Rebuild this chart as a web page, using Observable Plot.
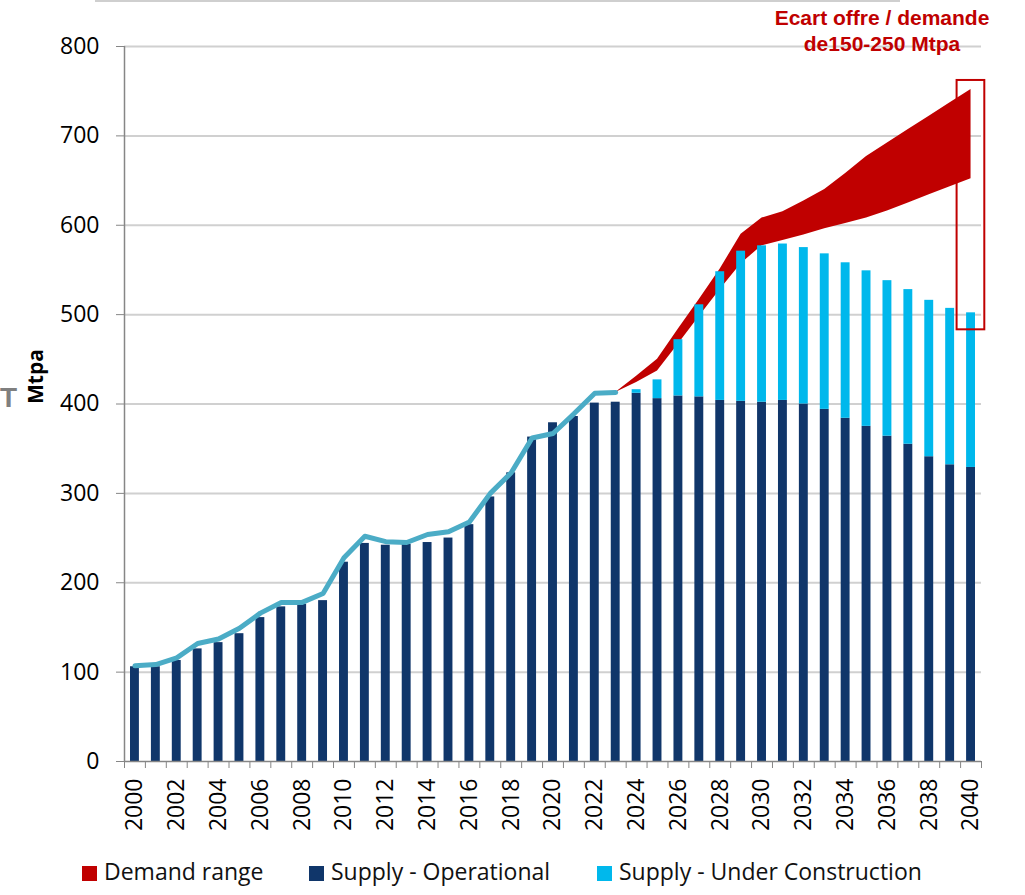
<!DOCTYPE html>
<html><head><meta charset="utf-8">
<script src="https://cdn.jsdelivr.net/npm/d3@7"></script>
<script src="https://cdn.jsdelivr.net/npm/@observablehq/plot@0.6"></script>
<style>
body{margin:0;background:#fff;}
#wrap{position:relative;width:1025px;height:895px;overflow:hidden;font-family:"Open Sans",sans-serif;background:#fff;}
#chart{position:absolute;left:0;top:0;}
.topline{position:absolute;left:95px;top:0;width:805px;height:2px;background:#cfcfcf;}
.cutT{position:absolute;left:0px;top:384px;font:bold 28px/28px "Liberation Sans",Arial,sans-serif;color:#7f7f7f;}
.note{position:absolute;left:752px;top:5px;width:260px;text-align:center;font:bold 21px/26px "Liberation Sans",Arial,sans-serif;color:#c00000;}
.sw{position:absolute;top:866px;width:15px;height:15px;}
.lt{position:absolute;top:856px;font-size:23px;line-height:30px;color:#111;white-space:nowrap;}
</style></head><body>
<div id="wrap">
  <div class="topline"></div>
  <div class="cutT">T</div>
  <div id="chart"></div>
  <div class="note">Ecart offre / demande<br>de150-250 Mtpa</div>
  <div id="legend"></div>
</div>
<script>
// ---- data ----
const years = d3.range(2000, 2041);
const yTicks = [0, 100, 200, 300, 400, 500, 600, 700, 800];
const supplySeries = ["Supply - Operational", "Supply - Under Construction"];
const operational = [106, 106, 113, 126, 133, 143, 161, 173, 176, 180, 223, 244, 242, 243, 245, 250, 265, 296, 323, 363, 379, 386, 401, 402, 412, 406, 409, 408, 404, 403, 402, 404, 400, 394, 384, 375, 364, 355, 341, 332, 329];
const constructionYears = [2024, 2025, 2026, 2027, 2028, 2029, 2030, 2031, 2032, 2033, 2034, 2035, 2036, 2037, 2038, 2039, 2040];
const underConstruction = [4, 21, 63, 103, 144, 168, 175, 175, 175, 174, 174, 174, 174, 173, 175, 175, 173];
const historyYears = d3.range(2000, 2024);
const historicDemand = [107, 108.5, 116, 132, 137, 149, 166, 178, 178, 188, 228, 252, 246, 245, 254, 257, 268, 300, 323, 362, 367, 389, 412, 413];
const demandYears = d3.range(2023, 2041);
const demandLow = [413, 424, 437, 467, 498, 528, 557, 577, 583, 589, 596, 602, 608, 616, 625, 634, 643, 652];
const demandHigh = [413, 431, 450, 484, 517, 551, 590, 608, 615, 627, 640, 658, 677, 692, 707, 722, 737, 752];
const gapYear = [2040];
const gapBox = [483, 762];
const legendLabels = ["Demand range", "Supply - Operational", "Supply - Under Construction"];

// ---- styles ----
const navy = "#10366a", light = "#00b8ec", red = "#c00000", lineColor = "#4bacc6", axisGray = "#868686";

// ---- tables ----
const supplyRows = [];
years.forEach((y, i) => supplyRows.push({year: y, series: supplySeries[0], value: operational[i]}));
constructionYears.forEach((y, i) => supplyRows.push({year: y, series: supplySeries[1], value: underConstruction[i]}));
const lineRows = historyYears.map((y, i) => ({year: y, value: historicDemand[i]}));
const demandRows = demandYears.map((y, i) => ({year: y, low: demandLow[i], high: demandHigh[i]}));
const boxRows = gapYear.map(y => ({year: y, lo: gapBox[0], hi: gapBox[1]}));

const W = 1025, H = 850, mL = 124, mR = 44, mT = 46, mB = 89;
const bw = (W - mL - mR) / years.length;

const chart = Plot.plot({
  width: W, height: H, marginLeft: mL, marginRight: mR, marginTop: mT, marginBottom: mB,
  style: {fontFamily: "'Open Sans', sans-serif", fontSize: "23px", color: "#000", background: "transparent", overflow: "visible"},
  x: {type: "band", domain: years, padding: 0, axis: null, label: null},
  y: {domain: [0, 800], axis: null, label: null},
  color: {domain: supplySeries, range: [navy, light]},
  marks: [
    Plot.ruleY(yTicks.filter(d => d > 0), {stroke: "#d0d0d0", strokeWidth: 2}),
    Plot.areaY(demandRows, {x: "year", y1: "low", y2: "high", fill: red}),
    Plot.barY(supplyRows, {x: "year", y: "value", fill: "series", insetLeft: 6, insetRight: 6}),
    Plot.line(lineRows, {x: "year", y: "value", stroke: lineColor, strokeWidth: 5, strokeLinejoin: "round", strokeLinecap: "round"}),
    Plot.barY(boxRows, {x: "year", y1: "lo", y2: "hi", fill: "none", stroke: red, strokeWidth: 2, insetLeft: -3.5, insetRight: -3.3}),
    Plot.ruleY([0], {stroke: axisGray, strokeWidth: 1.5}),
    Plot.ruleX([years[0]], {y1: 0, y2: 800, dx: -bw / 2, stroke: axisGray, strokeWidth: 1.5}),
    Plot.axisY({ticks: yTicks, tickSize: 8, tickFormat: () => "", color: axisGray, label: null}),
    Plot.axisY({ticks: yTicks, tickSize: 0, tickPadding: 25, color: "#000", fontSize: 23, label: null}),
    Plot.axisX({ticks: years, tickSize: 7, tickFormat: () => "", dx: -bw / 2, color: axisGray, label: null}),
    Plot.axisX({ticks: [years[years.length - 1]], tickSize: 7, tickFormat: () => "", dx: bw / 2, color: axisGray, label: null}),
    Plot.axisX({ticks: years.filter(y => y % 2 === 0), tickFormat: d => String(d), tickSize: 0, tickPadding: 17, tickRotate: -90, color: "#000", fontSize: 23, label: null}),
    Plot.text(["Mtpa"], {frameAnchor: "left", dx: -88, rotate: -90, fontWeight: "bold", fontSize: 21, fill: "#000"})
  ]
});
document.getElementById("chart").appendChild(chart);

// legend
const legendColors = [red, navy, light];
const legendX = [82, 309, 597];
const lg = document.getElementById("legend");
legendLabels.forEach((t, i) => {
  const s = document.createElement("div");
  s.className = "sw"; s.style.left = legendX[i] + "px"; s.style.background = legendColors[i];
  const l = document.createElement("div");
  l.className = "lt"; l.style.left = (legendX[i] + 22) + "px"; l.textContent = t;
  lg.appendChild(s); lg.appendChild(l);
});
</script>
</body></html>
